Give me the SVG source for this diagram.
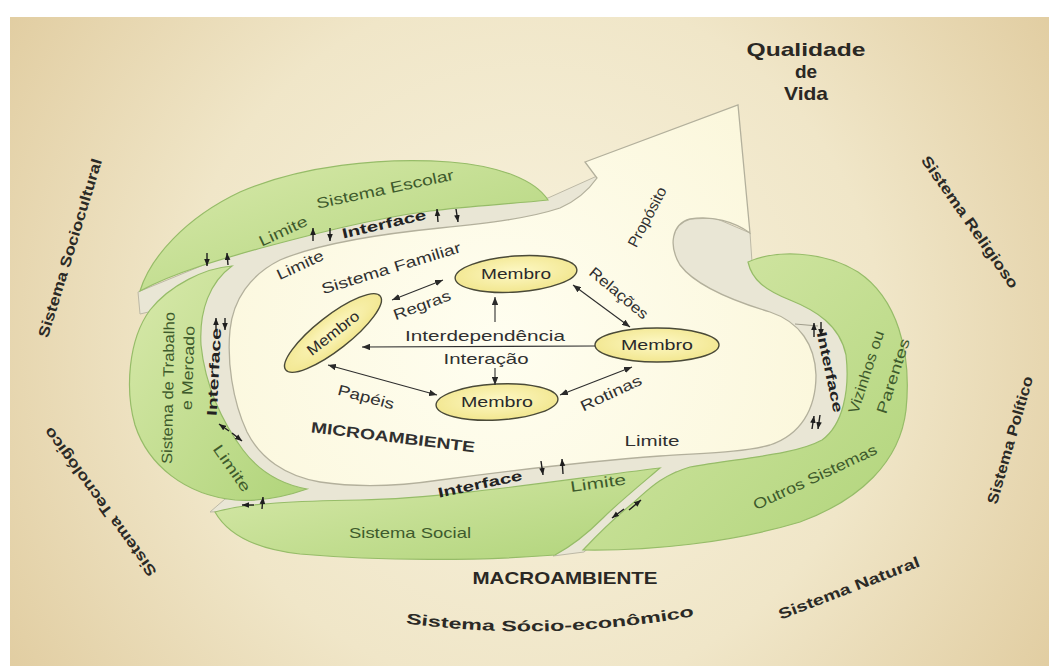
<svg xmlns="http://www.w3.org/2000/svg" width="1049" height="666" viewBox="0 0 1049 666">
<defs>
<radialGradient id="bg" cx="530" cy="340" r="640" gradientUnits="userSpaceOnUse">
<stop offset="0" stop-color="#f8f3de"/><stop offset="0.55" stop-color="#f0e6c8"/><stop offset="1" stop-color="#e0cb9e"/>
</radialGradient>
<linearGradient id="gr" x1="0" y1="0" x2="1" y2="1">
<stop offset="0" stop-color="#d8e9ab"/><stop offset="1" stop-color="#b0d47a"/>
</linearGradient>
<radialGradient id="wh" cx="500" cy="340" r="330" gradientUnits="userSpaceOnUse">
<stop offset="0" stop-color="#fffef0"/><stop offset="1" stop-color="#fbf7dc"/>
</radialGradient>
<radialGradient id="el" cx="0.5" cy="0.45" r="0.6">
<stop offset="0" stop-color="#fdf8c6"/><stop offset="1" stop-color="#f1e58a"/>
</radialGradient>
<marker id="ah" viewBox="0 0 10 8" refX="10" refY="4" markerWidth="8" markerHeight="6.4" markerUnits="userSpaceOnUse" orient="auto-start-reverse">
<path d="M0,0 L10,4 L0,8 Z" fill="#2a2a2a"/>
</marker>
<marker id="sa" viewBox="0 0 10 8" refX="10" refY="4" markerWidth="7" markerHeight="6.5" markerUnits="userSpaceOnUse" orient="auto">
<path d="M0,0 L10,4 L0,8 Z" fill="#1e1e1e"/>
</marker>
</defs>
<style>
.bgw{fill:#ffffff}
.band{fill:#e9e6d5;stroke:#bdb9a6;stroke-width:1}
.green{fill:url(#gr);stroke:#96bc68;stroke-width:1.2}
.white{fill:url(#wh);stroke:#b3b09c;stroke-width:1.3}
.memb{fill:url(#el);stroke:#4a4a38;stroke-width:1.4}
.con{stroke:#2e2e2e;stroke-width:1.1;fill:none}
.ia{stroke:#1e1e1e;stroke-width:1.4;fill:none}
text{font-family:"Liberation Sans",Arial,sans-serif}
.outer{font-size:15px;font-weight:bold;fill:#2b2a26}
.gl{font-size:15px;fill:#3e5a2c}
.wl{font-size:15px;fill:#303030}
.ifc{font-size:14px;font-weight:bold;fill:#222}
.mem{font-size:15px;fill:#2a2a2a}
.big{font-size:19px;font-weight:bold;fill:#2a2824}
</style>
<rect class="bgw" x="0" y="0" width="1049" height="666"/>
<rect x="10" y="17" width="1039" height="649" fill="url(#bg)"/>

<g id="outer-labels">
<text class="big" x="806" y="56" text-anchor="middle" textLength="119" lengthAdjust="spacingAndGlyphs">Qualidade</text>
<text class="big" x="806" y="78" text-anchor="middle">de</text>
<text class="big" x="806" y="100" text-anchor="middle" textLength="44" lengthAdjust="spacingAndGlyphs">Vida</text>
<text class="outer" transform="translate(70,248) rotate(-73)" text-anchor="middle" dy="0.35em" textLength="186" lengthAdjust="spacingAndGlyphs">Sistema Sociocultural</text>
<text class="outer" transform="translate(100,502) rotate(-126)" text-anchor="middle" dy="0.35em" textLength="180" lengthAdjust="spacingAndGlyphs">Sistema Tecnológico</text>
<text class="outer" transform="translate(970,222) rotate(55)" text-anchor="middle" dy="0.35em" textLength="158" lengthAdjust="spacingAndGlyphs">Sistema Religioso</text>
<text class="outer" transform="translate(1010,440) rotate(-74)" text-anchor="middle" dy="0.35em" textLength="132" lengthAdjust="spacingAndGlyphs">Sistema Político</text>
<text class="outer" transform="translate(849,588) rotate(-21)" text-anchor="middle" dy="0.35em" textLength="150" lengthAdjust="spacingAndGlyphs">Sistema Natural</text>
<path id="sse" d="M395,622 Q550,644 705,614" fill="none"/>
<text class="outer" font-size="16"><textPath href="#sse" startOffset="50%" text-anchor="middle" textLength="290" lengthAdjust="spacingAndGlyphs">Sistema Sócio-econômico</textPath></text>
<text x="565" y="584" text-anchor="middle" font-size="17" font-weight="bold" fill="#2a2824" textLength="185" lengthAdjust="spacingAndGlyphs">MACROAMBIENTE</text>
</g>

<g id="band">
<path class="band" d="M597,176 L548,198 L480,200 L400,210 L300,232 L240,250 L138,292 L140,314 L200,300 L195,360 L215,430 L265,485 L290,490 L225,499 L210,512 L300,508 L450,503 L600,485 L645,474 L595,522 L553,556 L584,552 L640,503 L675,472 L780,462 L835,438 L853,380 L850,335 L800,296 L760,278 L752,262 L750,233 L715,218 L690,219 L640,215 L620,200 Z"/>
</g>

<g id="sistema-escolar">
<path class="green" d="M140,291 C150,258 185,218 240,192 C300,166 380,157 450,162 C500,166 535,180 548,200 C510,204 470,206 430,211 C370,219 310,235 265,247 C225,258 175,272 140,291 Z"/>
<text class="gl" transform="translate(385,189) rotate(-12)" text-anchor="middle" dy="0.35em" textLength="140" lengthAdjust="spacingAndGlyphs">Sistema Escolar</text>
<text class="gl" transform="translate(283,231) rotate(-25)" text-anchor="middle" dy="0.35em" textLength="52" lengthAdjust="spacingAndGlyphs">Limite</text>
</g>

<g id="sistema-trabalho">
<path class="green" d="M232,266 C205,268 170,285 150,310 C128,340 125,390 135,425 C148,465 185,495 235,500 C262,502 290,495 307,489 C280,484 258,470 243,450 C222,422 205,385 201,345 C199,310 210,282 232,266 Z"/>
<text class="gl" transform="translate(168,388) rotate(-89)" text-anchor="middle" dy="0.35em" textLength="152" lengthAdjust="spacingAndGlyphs">Sistema de Trabalho</text>
<text class="gl" transform="translate(188,368) rotate(-88)" text-anchor="middle" dy="0.35em" textLength="84" lengthAdjust="spacingAndGlyphs">e Mercado</text>
<text class="gl" transform="translate(232,468) rotate(55)" text-anchor="middle" dy="0.35em" textLength="54" lengthAdjust="spacingAndGlyphs">Limite</text>
</g>

<g id="sistema-social">
<path class="green" d="M215,512 C245,503 300,501 360,500 C450,498 560,480 660,468 C640,485 618,503 603,518 C585,536 568,548 555,555 C480,561 380,561 300,554 C255,549 228,535 215,512 Z"/>
<text class="gl" x="410" y="538" text-anchor="middle" textLength="122" lengthAdjust="spacingAndGlyphs">Sistema Social</text>
<text class="gl" transform="translate(598,483) rotate(-8)" text-anchor="middle" dy="0.35em" textLength="56" lengthAdjust="spacingAndGlyphs">Limite</text>
</g>

<g id="vizinhos-outros">
<path class="green" d="M748,262 C775,250 822,250 858,272 C897,298 912,352 906,410 C900,462 860,500 800,522 C730,543 650,551 583,550 C600,532 618,515 633,503 C648,490 660,476 690,467 C740,458 795,455 822,440 C843,425 850,390 846,355 C840,325 815,310 790,300 C765,290 752,280 748,262 Z"/>
<text class="gl" transform="translate(866,372) rotate(-72)" text-anchor="middle" dy="0.35em" font-size="16" textLength="86" lengthAdjust="spacingAndGlyphs">Vizinhos ou</text>
<text class="gl" transform="translate(893,376) rotate(-72)" text-anchor="middle" dy="0.35em" font-size="16" textLength="78" lengthAdjust="spacingAndGlyphs">Parentes</text>
<text class="gl" transform="translate(815,477) rotate(-25)" text-anchor="middle" dy="0.35em" textLength="135" lengthAdjust="spacingAndGlyphs">Outros Sistemas</text>
</g>

<g id="sistema-familiar">
<path class="white" d="M585,162 L738,105 L750,233 C735,222 712,215 690,219 C672,224 668,245 680,265 C695,285 730,300 770,312 C800,322 815,345 816,375 C816,410 800,435 770,445 C740,453 700,453 660,456 C580,462 500,472 440,480 C400,486 360,488 320,482 C285,476 260,458 247,432 C232,400 227,360 230,330 C233,300 250,275 280,260 C320,243 380,234 440,228 C490,223 530,218 560,208 C578,200 590,188 597,178 Z"/>
<text class="wl" transform="translate(647,217) rotate(-62)" text-anchor="middle" dy="0.35em" textLength="66" lengthAdjust="spacingAndGlyphs">Propósito</text>
<text class="wl" transform="translate(300,265) rotate(-25)" text-anchor="middle" dy="0.35em" textLength="50" lengthAdjust="spacingAndGlyphs">Limite</text>
<text class="wl" transform="translate(391,268) rotate(-17)" text-anchor="middle" dy="0.35em" textLength="145" lengthAdjust="spacingAndGlyphs">Sistema Familiar</text>
<text class="wl" transform="translate(393,437) rotate(7)" text-anchor="middle" dy="0.35em" font-weight="bold" textLength="165" lengthAdjust="spacingAndGlyphs">MICROAMBIENTE</text>
<text class="wl" x="652" y="446" text-anchor="middle" textLength="55" lengthAdjust="spacingAndGlyphs">Limite</text>
<text class="wl" transform="translate(422,305) rotate(-20)" text-anchor="middle" dy="0.35em" textLength="60" lengthAdjust="spacingAndGlyphs">Regras</text>
<text class="wl" transform="translate(619,293) rotate(40)" text-anchor="middle" dy="0.35em" textLength="72" lengthAdjust="spacingAndGlyphs">Relações</text>
<text class="wl" x="485" y="341" text-anchor="middle" textLength="160" lengthAdjust="spacingAndGlyphs">Interdependência</text>
<text class="wl" x="486" y="364" text-anchor="middle" textLength="85" lengthAdjust="spacingAndGlyphs">Interação</text>
<text class="wl" transform="translate(366,397) rotate(15)" text-anchor="middle" dy="0.35em" textLength="58" lengthAdjust="spacingAndGlyphs">Papéis</text>
<text class="wl" transform="translate(611,393) rotate(-25)" text-anchor="middle" dy="0.35em" textLength="66" lengthAdjust="spacingAndGlyphs">Rotinas</text>
<line x1="795" y1="324" x2="818" y2="326" stroke="#a09d8c" stroke-width="1"/>
</g>

<g id="interfaces">
<text class="ifc" transform="translate(384,224) rotate(-13)" text-anchor="middle" dy="0.35em" textLength="86" lengthAdjust="spacingAndGlyphs">Interface</text>
<text class="ifc" transform="translate(214,372) rotate(-87)" text-anchor="middle" dy="0.35em" textLength="88" lengthAdjust="spacingAndGlyphs">Interface</text>
<text class="ifc" transform="translate(480,484) rotate(-12)" text-anchor="middle" dy="0.35em" textLength="86" lengthAdjust="spacingAndGlyphs">Interface</text>
<text class="ifc" transform="translate(830,372) rotate(78)" text-anchor="middle" dy="0.35em" textLength="82" lengthAdjust="spacingAndGlyphs">Interface</text>
</g>

<g id="membro-top"><ellipse class="memb" cx="516" cy="274" rx="61" ry="18" transform="rotate(-4 516 274)"/><text class="mem" x="516" y="279" text-anchor="middle" textLength="70" lengthAdjust="spacingAndGlyphs">Membro</text></g>
<g id="membro-right"><ellipse class="memb" cx="657" cy="345" rx="62" ry="17"/><text class="mem" x="657" y="350" text-anchor="middle" textLength="72" lengthAdjust="spacingAndGlyphs">Membro</text></g>
<g id="membro-bottom"><ellipse class="memb" cx="497" cy="402" rx="61" ry="18" transform="rotate(-3 497 402)"/><text class="mem" x="497" y="407" text-anchor="middle" textLength="72" lengthAdjust="spacingAndGlyphs">Membro</text></g>
<g id="membro-left"><ellipse class="memb" cx="333" cy="333" rx="60" ry="17" transform="rotate(-38 333 333)"/><text class="mem" transform="translate(333,333) rotate(-38)" text-anchor="middle" dy="0.35em" textLength="62" lengthAdjust="spacingAndGlyphs">Membro</text></g>

<g id="connectors">
<line class="con" x1="392" y1="300" x2="443" y2="280" marker-start="url(#ah)" marker-end="url(#ah)"/>
<line class="con" x1="573" y1="285" x2="630" y2="327" marker-start="url(#ah)" marker-end="url(#ah)"/>
<line class="con" x1="595" y1="346" x2="362" y2="347" marker-end="url(#ah)"/>
<line class="con" x1="495" y1="322" x2="495" y2="297" marker-end="url(#ah)"/>
<line class="con" x1="495" y1="368" x2="495" y2="385" marker-end="url(#ah)"/>
<line class="con" x1="328" y1="365" x2="437" y2="395" marker-start="url(#ah)" marker-end="url(#ah)"/>
<line class="con" x1="632" y1="367" x2="560" y2="395" marker-start="url(#ah)" marker-end="url(#ah)"/>
<line class="ia" x1="313" y1="241" x2="313" y2="228" marker-end="url(#sa)"/>
<line class="ia" x1="330" y1="228" x2="330" y2="241" marker-end="url(#sa)"/>
<line class="ia" x1="438" y1="222" x2="437" y2="209" marker-end="url(#sa)"/>
<line class="ia" x1="456" y1="209" x2="458" y2="222" marker-end="url(#sa)"/>
<line class="ia" x1="207" y1="253" x2="207" y2="266" marker-end="url(#sa)"/>
<line class="ia" x1="228" y1="265" x2="227" y2="253" marker-end="url(#sa)"/>
<line class="ia" x1="216" y1="330" x2="216" y2="318" marker-end="url(#sa)"/>
<line class="ia" x1="225" y1="318" x2="225" y2="330" marker-end="url(#sa)"/>
<line class="ia" x1="229" y1="431" x2="219" y2="424" marker-end="url(#sa)"/>
<line class="ia" x1="232" y1="433" x2="242" y2="441" marker-end="url(#sa)"/>
<line class="ia" x1="254" y1="505" x2="242" y2="505" marker-end="url(#sa)"/>
<line class="ia" x1="262" y1="509" x2="263" y2="497" marker-end="url(#sa)"/>
<line class="ia" x1="541" y1="461" x2="543" y2="475" marker-end="url(#sa)"/>
<line class="ia" x1="563" y1="474" x2="562" y2="459" marker-end="url(#sa)"/>
<line class="ia" x1="624" y1="509" x2="612" y2="518" marker-end="url(#sa)"/>
<line class="ia" x1="629" y1="510" x2="641" y2="500" marker-end="url(#sa)"/>
<line class="ia" x1="814" y1="337" x2="814" y2="323" marker-end="url(#sa)"/>
<line class="ia" x1="821" y1="322" x2="821" y2="336" marker-end="url(#sa)"/>
<line class="ia" x1="812" y1="429" x2="814" y2="416" marker-end="url(#sa)"/>
<line class="ia" x1="820" y1="415" x2="818" y2="429" marker-end="url(#sa)"/>
</g>
</svg>
